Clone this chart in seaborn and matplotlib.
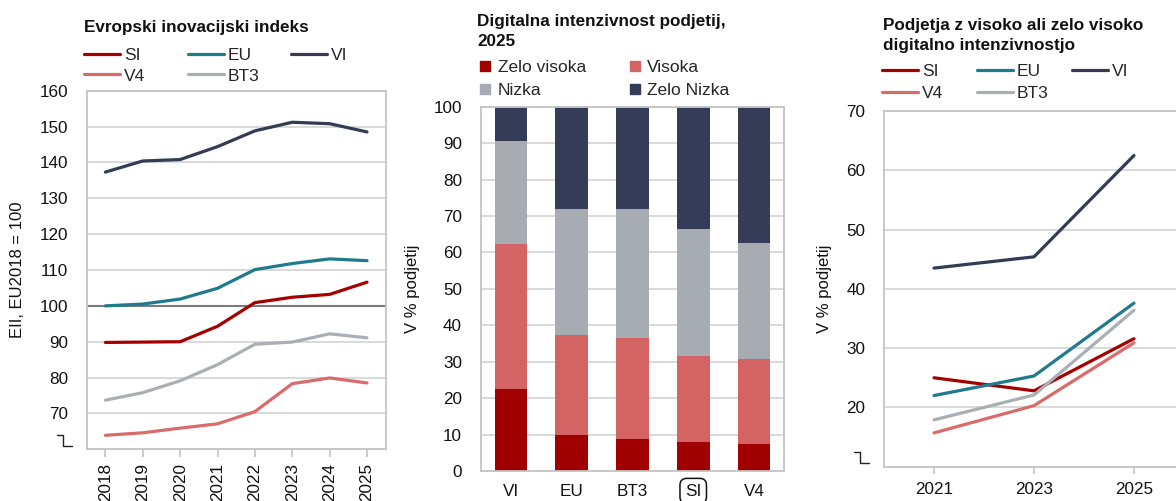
import matplotlib
matplotlib.use("Agg")
import matplotlib.pyplot as plt
import seaborn as sns
import pandas as pd
from matplotlib.lines import Line2D
from matplotlib.legend import Legend

# ---------------- data ----------------
eii_years = [2018, 2019, 2020, 2021, 2022, 2023, 2024, 2025]
eii_si = [89.8, 89.9, 90.0, 94.3, 100.9, 102.4, 103.2, 106.6]
eii_eu = [100.0, 100.5, 101.9, 104.9, 110.1, 111.8, 113.1, 112.6]
eii_vi = [137.3, 140.4, 140.8, 144.4, 148.8, 151.2, 150.8, 148.5]
eii_v4 = [63.9, 64.6, 65.9, 67.1, 70.5, 78.3, 79.9, 78.5]
eii_bt3 = [73.7, 75.8, 79.1, 83.6, 89.3, 89.9, 92.2, 91.1]

bar_groups = ["VI", "EU", "BT3", "SI", "V4"]
zelo_visoka = [22.5, 9.9, 8.7, 8.0, 7.5]
visoka = [39.7, 27.4, 27.9, 23.5, 23.3]
nizka = [28.5, 34.7, 35.3, 35.0, 31.9]
zelo_nizka = [9.3, 28.0, 28.1, 33.5, 37.3]

dig_years = [2021, 2023, 2025]
dig_si = [25.0, 22.8, 31.6]
dig_eu = [22.0, 25.3, 37.6]
dig_vi = [43.5, 45.4, 62.5]
dig_v4 = [15.7, 20.3, 30.9]
dig_bt3 = [17.9, 22.1, 36.4]

series_names = ["SI", "EU", "VI", "V4", "BT3"]
series_colors = {"SI": "#A50000", "EU": "#1F7A8E", "VI": "#343B55",
                 "V4": "#D96B6B", "BT3": "#A9AFB5"}
bar_labels = ["Zelo visoka", "Visoka", "Nizka", "Zelo Nizka"]
bar_colors = ["#A00000", "#D46464", "#A6ACB2", "#343C57"]

# ---------------- style ----------------
sns.set_theme(style="white")
plt.rcParams["font.family"] = ["Liberation Sans", "DejaVu Sans"]
plt.rcParams["font.size"] = 12
TITLE_FONT = ["Liberation Sans", "DejaVu Sans"]
TITLE_SIZE = 12.35
TICK_SIZE = 12.3
LEG_SIZE = 12.5

W, H = 1176, 501
fig = plt.figure(figsize=(W / 100, H / 100), dpi=100)


def px_axes(left, top, right, bottom):
    return fig.add_axes([left / W, 1 - bottom / H, (right - left) / W, (bottom - top) / H])


GRID = "#D3D3D3"
SPINE = "#C4C4C4"
TXT = "#111111"


def style_axes(ax):
    ax.grid(axis="y", color=GRID, linewidth=1.2)
    ax.set_axisbelow(True)
    for s in ax.spines.values():
        s.set_color(SPINE)
        s.set_linewidth(1.3)
    ax.tick_params(axis="y", length=0, pad=13.5, labelsize=TICK_SIZE, labelcolor=TXT)


def col_legend(ax, handles, labels, x_px, y_px, **kw):
    opts = dict(loc="upper left", bbox_to_anchor=(x_px / W, 1 - y_px / H),
                bbox_transform=fig.transFigure, frameon=False, borderpad=0,
                borderaxespad=0, handlelength=2.1, handletextpad=0.2,
                labelspacing=0.3, fontsize=LEG_SIZE)
    opts.update(kw)
    leg = Legend(ax, handles, labels, **opts)
    ax.add_artist(leg)


def break_mark(ax):
    pos = ax.get_position()
    x0 = pos.x0 * W
    y0 = (1 - pos.y0) * H
    xs = [x0 - 30, x0 - 23.5, x0 - 23.5, x0 - 15]
    ys = [y0 - 14.5, y0 - 14.5, y0 - 3.5, y0 - 3.5]
    fig.add_artist(Line2D([x / W for x in xs], [1 - y / H for y in ys],
                          transform=fig.transFigure, color="#222222", linewidth=1.0))


def title(x_px, y_px, s):
    fig.text(x_px / W, 1 - y_px / H, s, family=TITLE_FONT, fontweight="bold",
             fontsize=TITLE_SIZE, va="baseline", ha="left", color=TXT)


# ---------------- panel 1 ----------------
ax1 = px_axes(86.7, 90.7, 385.7, 449.3)
df1 = pd.DataFrame({"year": eii_years * 5,
                    "value": eii_si + eii_eu + eii_vi + eii_v4 + eii_bt3,
                    "series": sum([[n] * len(eii_years) for n in series_names], [])})
style_axes(ax1)
ax1.axhline(100, color="#7A7A7A", linewidth=1.5, zorder=1.5)
sns.lineplot(data=df1, x="year", y="value", hue="series", hue_order=series_names,
             palette=series_colors, linewidth=2.3, ax=ax1, legend=False)
ax1.set_xlim(2017.5, 2025.5)
ax1.set_ylim(60, 160)
ax1.set_yticks(range(70, 161, 10))
ax1.set_xticks(eii_years)
ax1.set_xticklabels([str(y) for y in eii_years], rotation=90)
ax1.tick_params(axis="x", length=6, width=1.2, color=SPINE, pad=4, labelsize=TICK_SIZE,
                labelcolor=TXT, bottom=True)
ax1.set_xlabel("")
ax1.set_ylabel("EII, EU2018 = 100", fontsize=12, labelpad=10, color=TXT)
break_mark(ax1)

line_handles = {n: Line2D([], [], color=series_colors[n], linewidth=2.3) for n in series_names}
col_legend(ax1, [line_handles["SI"], line_handles["V4"]], ["SI", "V4"], 84, 48)
col_legend(ax1, [line_handles["EU"], line_handles["BT3"]], ["EU", "BT3"], 188, 48)
col_legend(ax1, [line_handles["VI"]], ["VI"], 291, 48)
title(84, 31.7, "Evropski inovacijski indeks")

# ---------------- panel 2 ----------------
ax2 = px_axes(480.7, 106.7, 784.3, 471)
style_axes(ax2)
stack_parts = [zelo_visoka, visoka, nizka, zelo_nizka]
cum = []
running = [0.0] * len(bar_groups)
for part in stack_parts:
    running = [r + p for r, p in zip(running, part)]
    cum.append(list(running))
for i in range(len(stack_parts) - 1, -1, -1):
    dfb = pd.DataFrame({"group": bar_groups, "value": cum[i]})
    sns.barplot(data=dfb, x="group", y="value", order=bar_groups, color=bar_colors[i],
                saturation=1, width=0.54, ax=ax2, linewidth=0)
ax2.set_xlim(-0.5, 4.5)
ax2.set_ylim(0, 100)
ax2.set_yticks(range(0, 101, 10))
ax2.tick_params(axis="x", length=0, pad=9, labelsize=TICK_SIZE, labelcolor=TXT)
ax2.set_xlabel("")
ax2.set_ylabel("V % podjetij", fontsize=12, labelpad=10, color=TXT)
for lbl in ax2.get_xticklabels():
    if lbl.get_text() == "SI":
        lbl.set_bbox(dict(boxstyle="round,pad=0.3,rounding_size=0.4", facecolor="white",
                          edgecolor=TXT, linewidth=1.1))

sq = [Line2D([], [], linestyle="none", marker="s", markersize=7.5, color=c) for c in bar_colors]
col_legend(ax2, [sq[0], sq[2]], [bar_labels[0], bar_labels[2]], 478, 60,
           handlelength=0.8, handletextpad=0.35, labelspacing=0.45)
col_legend(ax2, [sq[1], sq[3]], [bar_labels[1], bar_labels[3]], 628, 60,
           handlelength=0.8, handletextpad=0.3, labelspacing=0.45)
title(477, 25.7, "Digitalna intenzivnost podjetij,")
title(477, 45.7, "2025")

# ---------------- panel 3 ----------------
ax3 = px_axes(884, 111, 1184, 466.7)
df3 = pd.DataFrame({"year": dig_years * 5,
                    "value": dig_si + dig_eu + dig_vi + dig_v4 + dig_bt3,
                    "series": sum([[n] * len(dig_years) for n in series_names], [])})
style_axes(ax3)
sns.lineplot(data=df3, x="year", y="value", hue="series", hue_order=series_names,
             palette=series_colors, linewidth=2.3, ax=ax3, legend=False)
ax3.set_xlim(2020, 2026)
ax3.set_ylim(10, 70)
ax3.set_yticks(range(20, 71, 10))
ax3.set_xticks(dig_years)
ax3.tick_params(axis="x", length=5, width=1.2, color=SPINE, pad=6, labelsize=TICK_SIZE,
                labelcolor=TXT, bottom=True)
ax3.set_xlabel("")
ax3.set_ylabel("V % podjetij", fontsize=12, labelpad=10, color=TXT)
break_mark(ax3)

col_legend(ax3, [line_handles["SI"], line_handles["V4"]], ["SI", "V4"], 882, 64, labelspacing=0.4)
col_legend(ax3, [line_handles["EU"], line_handles["BT3"]], ["EU", "BT3"], 977, 64, labelspacing=0.4)
col_legend(ax3, [line_handles["VI"]], ["VI"], 1072, 64, labelspacing=0.4)
title(882.7, 30, "Podjetja z visoko ali zelo visoko")
title(882.7, 50, "digitalno intenzivnostjo")

fig.savefig("out.png", dpi=100)
